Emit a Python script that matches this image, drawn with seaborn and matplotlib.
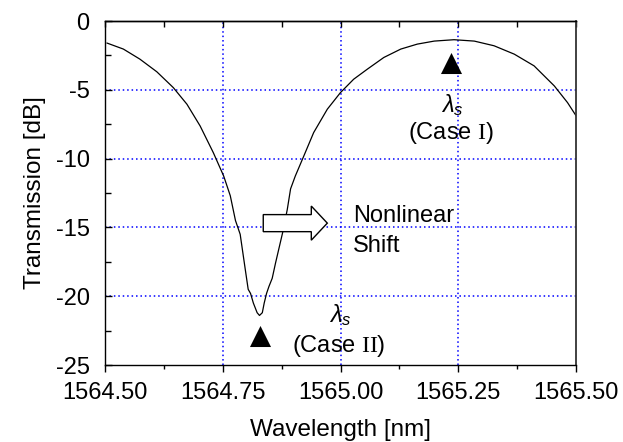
import numpy as np
import pandas as pd
import matplotlib
matplotlib.use("Agg")
import matplotlib.pyplot as plt
import matplotlib.patches as mpatches
from matplotlib.ticker import MultipleLocator
import seaborn as sns

# ---- data ----
wavelength = [1564.504, 1564.539, 1564.574, 1564.610, 1564.645, 1564.674, 1564.702,
              1564.730, 1564.752, 1564.766, 1564.777, 1564.787, 1564.798, 1564.804,
              1564.809, 1564.815, 1564.823, 1564.828, 1564.834, 1564.838, 1564.843,
              1564.848, 1564.855, 1564.862, 1564.877, 1564.887, 1564.894, 1564.904,
              1564.922, 1564.943, 1564.972, 1565.000, 1565.028, 1565.057, 1565.092,
              1565.128, 1565.163, 1565.199, 1565.241, 1565.284, 1565.326, 1565.369,
              1565.411, 1565.454, 1565.482, 1565.500]
transmission = [-1.60, -2.04, -2.77, -3.69, -4.84, -6.05, -7.63,
                -9.57, -11.27, -12.7, -14.5, -15.5, -18.1, -19.5,
                -19.8, -20.5, -21.2, -21.4, -21.2, -20.5, -19.8,
                -19.3, -18.7, -17.6, -15.4, -13.7, -12.2, -11.27,
                -9.82, -8.11, -6.41, -5.2, -4.23, -3.50, -2.65,
                -2.04, -1.68, -1.46, -1.36, -1.46, -1.80, -2.41,
                -3.26, -4.72, -5.93, -6.88]

marker_wl = [1565.235, 1564.830]
marker_tr = [-3.03, -22.9]

xticks = [1564.50, 1564.75, 1565.00, 1565.25, 1565.50]
xticklabels = ["1564.50", "1564.75", "1565.00", "1565.25", "1565.50"]
yticks = [0, -5, -10, -15, -20, -25]

# annotation positions (data coords)
arrow_start, arrow_head_start, arrow_tip = 1564.836, 1564.938, 1564.972
arrow_y, arrow_body_w, arrow_head_w = -14.69, 1.24, 2.48

df = pd.DataFrame({"wl": wavelength, "T": transmission})
mk = pd.DataFrame({"wl": marker_wl, "T": marker_tr})

sns.set_style("white")
plt.rcParams["font.family"] = ["Liberation Sans", "DejaVu Sans"]
plt.rcParams["axes.unicode_minus"] = False
plt.rcParams["text.color"] = "black"
plt.rcParams["axes.labelcolor"] = "black"
plt.rcParams["xtick.color"] = "black"
plt.rcParams["ytick.color"] = "black"
plt.rcParams["mathtext.fontset"] = "custom"
plt.rcParams["mathtext.rm"] = "Liberation Serif"
plt.rcParams["mathtext.it"] = "Liberation Sans:italic"
plt.rcParams["mathtext.bf"] = "Liberation Sans:bold"

fig = plt.figure(figsize=(6.23, 4.42), dpi=100)
ax = fig.add_axes([105/623, 1-365/442, (576-105)/623, (365-21)/442])

sns.lineplot(data=df, x="wl", y="T", ax=ax, color="black", linewidth=0.9, sort=False)
sns.scatterplot(data=mk, x="wl", y="T", ax=ax, marker="^", color="black", s=230,
                edgecolor="black", linewidth=0, zorder=5)

ax.set_xlim(1564.5, 1565.5)
ax.set_ylim(-25, 0)
ax.set_xticks(xticks)
ax.set_xticklabels(xticklabels)
ax.set_yticks(yticks)
ax.xaxis.set_minor_locator(MultipleLocator(0.125))
ax.yaxis.set_minor_locator(MultipleLocator(2.5))

ax.tick_params(axis="x", which="major", direction="out", length=5, width=1,
               labelsize=17, pad=7, bottom=True, top=False, colors="black")
ax.tick_params(axis="x", which="minor", direction="out", length=3, width=1,
               bottom=True, top=False, colors="black")
ax.tick_params(axis="y", which="major", direction="in", length=5, width=1,
               labelsize=17, pad=11, left=True, right=False, colors="black")
ax.tick_params(axis="y", which="minor", direction="in", length=4, width=1,
               left=True, right=False, colors="black")

sec = ax.secondary_xaxis("top")
sec.set_xticks(xticks)
sec.xaxis.set_minor_locator(MultipleLocator(0.125))
sec.tick_params(axis="x", which="both", direction="in", length=4, width=1,
                labeltop=False, colors="black")
sec.spines["top"].set_linewidth(1.0)
sec.spines["top"].set_color("black")

for s in ["left", "bottom", "top", "right"]:
    ax.spines[s].set_color("black")
    ax.spines[s].set_linewidth(1.0)
ax.spines["right"].set_color("#333333")
ax.spines["right"].set_linewidth(1.3)

# grid only at interior majors
grid_style = dict(color="#0000ff", linestyle=(0, (1, 1.9)), linewidth=1.1, zorder=0)
for gx in [1564.75, 1565.00, 1565.25]:
    ax.axvline(gx, **grid_style)
for gy in [-5, -10, -15, -20]:
    ax.axhline(gy, **grid_style)

ax.set_xlabel("Wavelength [nm]", fontsize=17.5, labelpad=11, color="black")
ax.set_ylabel("Transmission [dB]", fontsize=17.5, labelpad=7, color="black")

# block arrow
length = arrow_tip - arrow_start
head_len = arrow_tip - arrow_head_start
arr = mpatches.FancyArrow(arrow_start, arrow_y, length, 0, width=arrow_body_w,
                          head_width=arrow_head_w, head_length=head_len,
                          length_includes_head=True, facecolor="white",
                          edgecolor="black", linewidth=1.0, zorder=6)
ax.add_patch(arr)

fs = 17
ax.text(1565.026, -14.58, "Nonlinear", fontsize=fs, ha="left", va="baseline")
ax.text(1565.026, -16.76, "Shift", fontsize=fs, ha="left", va="baseline")

ax.text(1565.238, -6.65, r"$\lambda_s$", fontsize=fs, ha="center", va="baseline")
ax.text(1565.234, -8.6, r"(Case $\mathrm{I}$)", fontsize=fs, ha="center", va="baseline")

ax.text(1565.0, -21.85, r"$\lambda_s$", fontsize=fs, ha="center", va="baseline")
ax.text(1564.996, -24.05, r"(Case $\mathrm{II}$)", fontsize=fs, ha="center", va="baseline")

fig.savefig("out.png", dpi=100)
